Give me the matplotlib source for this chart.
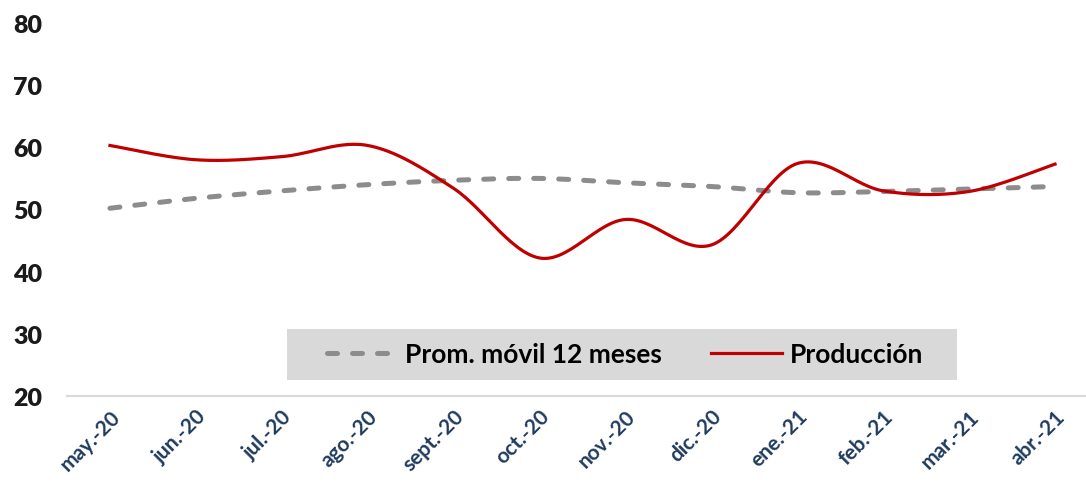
import numpy as np
import matplotlib
matplotlib.use("Agg")
import matplotlib.pyplot as plt
from matplotlib.patches import Rectangle

plt.rcParams['font.family'] = ['Lato', 'DejaVu Sans']

months = ['may.-20', 'jun.-20', 'jul.-20', 'ago.-20', 'sept.-20', 'oct.-20',
          'nov.-20', 'dic.-20', 'ene.-21', 'feb.-21', 'mar.-21', 'abr.-21']
produccion = [60.3, 58.0, 58.5, 60.3, 53.4, 42.2, 48.4, 44.3, 57.4, 53.0, 52.9, 57.3]
prom_movil = [50.2, 51.8, 53.0, 54.0, 54.7, 55.0, 54.3, 53.7, 52.7, 52.9, 53.3, 53.7]


def smooth(y, n=30):
    # Excel-style smoothed line: Catmull-Rom segments as cubic Bezier
    y = np.asarray(y, float)
    x = np.arange(len(y), dtype=float)
    px, py = [], []
    for i in range(len(y) - 1):
        x0, y0 = (x[i - 1], y[i - 1]) if i > 0 else (x[i], y[i])
        x3, y3 = (x[i + 2], y[i + 2]) if i + 2 < len(y) else (x[i + 1], y[i + 1])
        c1x = x[i] + (x[i + 1] - x0) / 6
        c1y = y[i] + (y[i + 1] - y0) / 6
        c2x = x[i + 1] - (x3 - x[i]) / 6
        c2y = y[i + 1] - (y3 - y[i]) / 6
        t = np.linspace(0, 1, n, endpoint=(i == len(y) - 2))
        b = [(1 - t) ** 3, 3 * (1 - t) ** 2 * t, 3 * (1 - t) * t ** 2, t ** 3]
        px.append(b[0] * x[i] + b[1] * c1x + b[2] * c2x + b[3] * x[i + 1])
        py.append(b[0] * y[i] + b[1] * c1y + b[2] * c2y + b[3] * y[i + 1])
    return np.concatenate(px), np.concatenate(py)


fig = plt.figure(figsize=(10.86, 4.85), dpi=100)
ax = fig.add_axes([67 / 1086, 1 - 397 / 485, (1098 - 67) / 1086, (397 - 24) / 485])

sx, sy = smooth(prom_movil)
ax.plot(sx, sy, color='#8c8c8c', lw=3.6, ls=(0, (2.0, 3.0)), dash_capstyle='round',
        label='Prom. móvil 12 meses')
sx, sy = smooth(produccion)
ax.plot(sx, sy, color='#c00000', lw=2.3, label='Producción')

ax.set_xlim(-0.5, len(months) - 0.5)
ax.set_ylim(20, 80)
ax.set_yticks(range(20, 81, 10))
ax.set_xticks(range(len(months)))
ax.set_xticklabels(months, rotation=45, ha='right', rotation_mode='anchor',
                   color='#1f3b5e', fontsize=15, fontweight='bold')
ax.tick_params(axis='x', length=0, pad=7)
ax.tick_params(axis='y', length=0, pad=18, labelsize=18)
for lbl in ax.get_yticklabels():
    lbl.set_fontweight('heavy')
    lbl.set_color('#1a1a1a')

for s in ['top', 'right', 'left']:
    ax.spines[s].set_visible(False)
ax.spines['bottom'].set_color('#d9d9d9')
ax.spines['bottom'].set_linewidth(1.5)

# legend background box
ax.add_patch(Rectangle((0.2134, 0.0429), 0.650, 0.1367, transform=ax.transAxes,
                       facecolor='#d9d9d9', edgecolor='none', zorder=1.5))

leg = ax.legend(loc='center left', bbox_to_anchor=(0.2522, 0.1126), ncol=2,
                frameon=False, handlelength=2.7, handletextpad=0.27,
                columnspacing=1.85, borderpad=0, borderaxespad=0,
                prop={'weight': 'bold', 'size': 19})
leg.set_zorder(5)

fig.savefig('out.png', dpi=100)
